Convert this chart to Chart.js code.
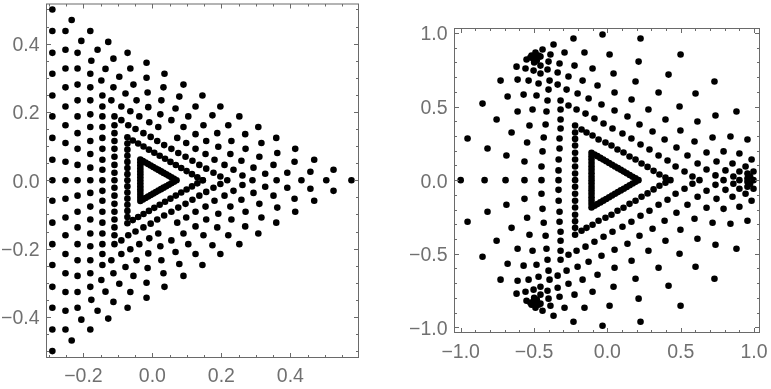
<!DOCTYPE html>
<html>
<head>
<meta charset="utf-8">
<script src="https://cdn.jsdelivr.net/npm/chart.js@4"></script>
<style>
html, body { margin: 0; padding: 0; background: #fff; }
canvas { position: absolute; top: 0; }
#leftWrap { position: absolute; left: 0; top: 0; width: 385px; height: 389px; }
#rightWrap { position: absolute; left: 395px; top: 0; width: 376px; height: 389px; }
</style>
</head>
<body>
<div id="leftWrap"><canvas id="leftChart"></canvas></div>
<div id="rightWrap"><canvas id="rightChart"></canvas></div>
<script>
// left panel, points
var leftUpper = [
[-.29,.5],[-.29,.437],[-.29,.373],[-.29,.312],[-.29,.248],[-.29,.187],[-.29,.124],[-.29,.06],
[-.252,.437],[-.252,.382],[-.252,.327],[-.252,.272],[-.252,.216],[-.252,.161],[-.252,.109],[-.252,.054],
[-.217,.373],[-.217,.327],[-.217,.28],[-.217,.234],[-.217,.187],[-.217,.138],[-.217,.092],[-.217,.045],
[-.18,.437],[-.18,.312],[-.18,.272],[-.18,.234],[-.18,.193],[-.18,.156],[-.18,.115],[-.18,.077],[-.18,.037],
[-.234,.469],[-.206,.408],[-.177,.35],[-.159,.382],[-.128,.405],[-.148,.292],[-.136,.326],
[-.145,.248],[-.145,.216],[-.145,.187],[-.145,.156],[-.145,.124],[-.145,.092],[-.145,.06],[-.145,.031],
[-.11,.187],[-.11,.161],[-.11,.138],[-.11,.115],[-.11,.092],[-.11,.069],[-.11,.045],[-.11,.022],
[-.113,.356],[-.113,.272],[-.119,.234],[-.09,.216],[-.096,.303],[-.078,.254],[-.072,.373],[-.064,.327],[-.055,.28],[-.046,.234],[-.064,.202],[-.038,.187],
[-.09,.176],[-.07,.161],[-.049,.15],[-.026,.138],[-.005,.127],[.014,.115],[.034,.103],[.055,.092],[.075,.08],[.096,.069],[.116,.057],[.136,.045],[.156,.034],[.177,.022],[.197,.011],
[-.017,.344],[-.017,.3],[-.014,.257],[-.012,.214],[-.009,.17],[.017,.156],[.023,.193],[.026,.234],[.032,.272],[.035,.312],[.067,.21],[.078,.245],[.09,.28],[.055,.176],[.09,.156],[.072,.124],[.098,.109],[.104,.187],
[.145,.248],[.125,.216],[.197,.216],[.174,.19],[.252,.187],[.148,.161],[.22,.161],[.307,.156],[.125,.135],[.188,.138],[.269,.135],[.156,.115],[.229,.115],[.316,.109],[.359,.124],[.125,.092],[.191,.098],[.27,.092],[.414,.092],[.154,.077],[.226,.077],[.362,.08],[.18,.06],[.258,.057],[.31,.069],[.469,.06],[.412,.054],[.209,.045],[.351,.045],[.235,.031],[.293,.037],[.525,.031],[.391,.022],[.458,.025],[.261,.014],[.327,.019]
];
var leftAxis = [[-.29,0],[-.252,0],[-.217,0],[-.18,0],[-.145,0],[-.11,0],[.146,0],[.217,0],[.29,0],[.36,0],[.432,0],[.504,0],[.577,0]];
var leftLower = [
[-.29,-.5],[-.29,-.437],[-.29,-.373],[-.29,-.312],[-.29,-.248],[-.29,-.187],[-.29,-.124],[-.29,-.06],
[-.252,-.437],[-.252,-.382],[-.252,-.327],[-.252,-.272],[-.252,-.216],[-.252,-.161],[-.252,-.109],[-.252,-.054],
[-.217,-.373],[-.217,-.327],[-.217,-.28],[-.217,-.234],[-.217,-.187],[-.217,-.138],[-.217,-.092],[-.217,-.045],
[-.18,-.437],[-.18,-.312],[-.18,-.272],[-.18,-.234],[-.18,-.193],[-.18,-.156],[-.18,-.115],[-.18,-.077],[-.18,-.037],
[-.234,-.469],[-.206,-.408],[-.177,-.35],[-.159,-.382],[-.128,-.405],[-.148,-.292],[-.136,-.326],
[-.145,-.248],[-.145,-.216],[-.145,-.187],[-.145,-.156],[-.145,-.124],[-.145,-.092],[-.145,-.06],[-.145,-.031],
[-.11,-.187],[-.11,-.161],[-.11,-.138],[-.11,-.115],[-.11,-.092],[-.11,-.069],[-.11,-.045],[-.11,-.022],
[-.113,-.356],[-.113,-.272],[-.119,-.234],[-.09,-.216],[-.096,-.303],[-.078,-.254],[-.072,-.373],[-.064,-.327],[-.055,-.28],[-.046,-.234],[-.064,-.202],[-.038,-.187],
[-.09,-.176],[-.07,-.161],[-.049,-.15],[-.026,-.138],[-.005,-.127],[.014,-.115],[.034,-.103],[.055,-.092],[.075,-.08],[.096,-.069],[.116,-.057],[.136,-.045],[.156,-.034],[.177,-.022],[.197,-.011],
[-.017,-.344],[-.017,-.3],[-.014,-.257],[-.012,-.214],[-.009,-.17],[.017,-.156],[.023,-.193],[.026,-.234],[.032,-.272],[.035,-.312],[.067,-.21],[.078,-.245],[.09,-.28],[.055,-.176],[.09,-.156],[.072,-.124],[.098,-.109],[.104,-.187],
[.145,-.248],[.125,-.216],[.197,-.216],[.174,-.19],[.252,-.187],[.148,-.161],[.22,-.161],[.307,-.156],[.125,-.135],[.188,-.138],[.269,-.135],[.156,-.115],[.229,-.115],[.316,-.109],[.359,-.124],[.125,-.092],[.191,-.098],[.27,-.092],[.414,-.092],[.154,-.077],[.226,-.077],[.362,-.08],[.18,-.06],[.258,-.057],[.31,-.069],[.469,-.06],[.412,-.054],[.209,-.045],[.351,-.045],[.235,-.031],[.293,-.037],[.525,-.031],[.391,-.022],[.458,-.025],[.261,-.014],[.327,-.019]
];
var leftMiddle = [
[-.0725,.1256],[-.0725,.1077],[-.0725,.0897],[-.0725,.0718],[-.0725,.0538],[-.0725,.0359],[-.0725,.0179],[-.0725,0],[-.0725,-.0179],[-.0725,-.0359],[-.0725,-.0538],[-.0725,-.0718],[-.0725,-.0897],[-.0725,-.1077],[-.0725,-.1256],
[-.0569,.1166],[-.0413,.1077],[-.0257,.0987],[-.0101,.0897],[.0055,.0807],[.0211,.0718],[.0367,.0628],[.0523,.0538],[.0679,.0449],[.0835,.0359],[.0991,.0269],[.1147,.0179],[.1303,.009],[.146,0],
[-.0569,-.1166],[-.0413,-.1077],[-.0257,-.0987],[-.0101,-.0897],[.0055,-.0807],[.0211,-.0718],[.0367,-.0628],[.0523,-.0538],[.0679,-.0449],[.0835,-.0359],[.0991,-.0269],[.1147,-.0179],[.1303,-.009]
];
var leftInner = [
[-.035,.0606],[-.035,.052],[-.035,.0433],[-.035,.0346],[-.035,.026],[-.035,.0173],[-.035,.0087],[-.035,0],[-.035,-.0087],[-.035,-.0173],[-.035,-.026],[-.035,-.0346],[-.035,-.0433],[-.035,-.052],[-.035,-.0606],
[-.0275,.0563],[-.02,.052],[-.0125,.0476],[-.005,.0433],[.0025,.039],[.01,.0346],[.0175,.0303],[.025,.026],[.0325,.0216],[.04,.0173],[.0475,.013],[.055,.0087],[.0625,.0043],[.07,0],
[-.0275,-.0563],[-.02,-.052],[-.0125,-.0476],[-.005,-.0433],[.0025,-.039],[.01,-.0346],[.0175,-.0303],[.025,-.026],[.0325,-.0216],[.04,-.0173],[.0475,-.013],[.055,-.0087],[.0625,-.0043]
];

// right panel
var rightUpper = [
[-.231,.962],[-.367,.921],[-.156,.867],[-.292,.867],[-.442,.887],[-.388,.853],[-.551,.819],
[-.517,.846],[-.49,.867],[-.469,.846],[-.503,.821],[-.481,.812],[-.456,.839],[-.49,.839],[-.525,.833],[-.499,.799],
[-.401,.805],[-.326,.792],[-.224,.778],[-.456,.778],[-.619,.771],[-.558,.758],[-.503,.744],[-.408,.751],[-.456,.724],[-.339,.731],[-.265,.704],[-.169,.676],[-.728,.676],[-.612,.683],[-.537,.676],[-.469,.656],[-.394,.676],[-.339,.649],[-.401,.615],[-.278,.615],[-.203,.588],[-.68,.568],[-.571,.581],[-.483,.575],[-.408,.541],[-.319,.541],[-.128,.554],[-.851,.52],[-.612,.466],[-.51,.48],[-.415,.466],[-.319,.48],[-.265,.507],[-.21,.48],[-.149,.452],[-.755,.412],[-.319,.412],[-.531,.371],[-.421,.378],[-.319,.351],[-.176,.344],[-.142,.324],[-.653,.324],[-.434,.29],[-.326,.283],[-.547,.256],[-.953,.283],[-.326,.215],[-.817,.215],[-.442,.195],[-.688,.167],[-.332,.14],[-.565,.127],[-.449,.093],[-.333,.066],
[-.22,.371],[-.22,.324],[-.22,.28],[-.22,.235],[-.22,.186],[-.22,.14],[-.22,.093],[-.22,.045],
[-.033,.989],[.226,.962],[.015,.853],[.499,.853],[.213,.805],[-.101,.758],[.042,.724],[.417,.717],[.192,.67],[.73,.67],[-.067,.643],[.049,.595],[.349,.595],[.601,.588],[.165,.548],[-.04,.514],[.492,.5],[.28,.48],[.049,.473],[.88,.466],[.137,.432],[.737,.439],[-.088,.419],[.396,.412],[.614,.398],[-.026,.385],[.219,.378],[.035,.351],[.498,.337],[.308,.33],[.103,.317],[-.101,.303],[.839,.296],[.717,.29],[.955,.276],
[-.06,.276],[-.013,.256],[.028,.235],[.069,.208],[.11,.188],[.151,.161],[.192,.14],[.233,.113],[.274,.09],[.315,.063],[.355,.038],[.396,.018],
[.164,.283],[.226,.242],[.287,.208],[.349,.167],[.41,.133],[.465,.093],[.526,.059],[.58,.025],[.39,.276],[.471,.222],[.546,.167],[.615,.113],[.676,.072],[.737,.032],[.594,.262],[.676,.188],[.744,.127],[.805,.066],[.792,.195],[.9,.181],[.853,.113],[.9,.059],[.983,.14],[.942,.093],[.859,.025],[.955,.045],[.996,.059],[.955,.011],[.973,.025]
];
var rightAxis = [[-1,0],[-.837,0],[-.694,0],[-.565,0],[-.449,0],[-.333,0],[-.22,0],[.43,0],[.628,0],[.792,0],[.9,0],[.996,0]];
var rightLower = [
[-.231,-.962],[-.367,-.921],[-.156,-.867],[-.292,-.867],[-.442,-.887],[-.388,-.853],[-.551,-.819],
[-.517,-.846],[-.49,-.867],[-.469,-.846],[-.503,-.821],[-.481,-.812],[-.456,-.839],[-.49,-.839],[-.525,-.833],[-.499,-.799],
[-.401,-.805],[-.326,-.792],[-.224,-.778],[-.456,-.778],[-.619,-.771],[-.558,-.758],[-.503,-.744],[-.408,-.751],[-.456,-.724],[-.339,-.731],[-.265,-.704],[-.169,-.676],[-.728,-.676],[-.612,-.683],[-.537,-.676],[-.469,-.656],[-.394,-.676],[-.339,-.649],[-.401,-.615],[-.278,-.615],[-.203,-.588],[-.68,-.568],[-.571,-.581],[-.483,-.575],[-.408,-.541],[-.319,-.541],[-.128,-.554],[-.851,-.52],[-.612,-.466],[-.51,-.48],[-.415,-.466],[-.319,-.48],[-.265,-.507],[-.21,-.48],[-.149,-.452],[-.755,-.412],[-.319,-.412],[-.531,-.371],[-.421,-.378],[-.319,-.351],[-.176,-.344],[-.142,-.324],[-.653,-.324],[-.434,-.29],[-.326,-.283],[-.547,-.256],[-.953,-.283],[-.326,-.215],[-.817,-.215],[-.442,-.195],[-.688,-.167],[-.332,-.14],[-.565,-.127],[-.449,-.093],[-.333,-.066],
[-.22,-.371],[-.22,-.324],[-.22,-.28],[-.22,-.235],[-.22,-.186],[-.22,-.14],[-.22,-.093],[-.22,-.045],
[-.033,-.989],[.226,-.962],[.015,-.853],[.499,-.853],[.213,-.805],[-.101,-.758],[.042,-.724],[.417,-.717],[.192,-.67],[.73,-.67],[-.067,-.643],[.049,-.595],[.349,-.595],[.601,-.588],[.165,-.548],[-.04,-.514],[.492,-.5],[.28,-.48],[.049,-.473],[.88,-.466],[.137,-.432],[.737,-.439],[-.088,-.419],[.396,-.412],[.614,-.398],[-.026,-.385],[.219,-.378],[.035,-.351],[.498,-.337],[.308,-.33],[.103,-.317],[-.101,-.303],[.839,-.296],[.717,-.29],[.955,-.276],
[-.06,-.276],[-.013,-.256],[.028,-.235],[.069,-.208],[.11,-.188],[.151,-.161],[.192,-.14],[.233,-.113],[.274,-.09],[.315,-.063],[.355,-.038],[.396,-.018],
[.164,-.283],[.226,-.242],[.287,-.208],[.349,-.167],[.41,-.133],[.465,-.093],[.526,-.059],[.58,-.025],[.39,-.276],[.471,-.222],[.546,-.167],[.615,-.113],[.676,-.072],[.737,-.032],[.594,-.262],[.676,-.188],[.744,-.127],[.805,-.066],[.792,-.195],[.9,-.181],[.853,-.113],[.9,-.059],[.983,-.14],[.942,-.093],[.859,-.025],[.955,-.045],[.996,-.059],[.955,-.011],[.973,-.025]
];
var rightInner = [
[-.108,.186],[-.108,.1628],[-.108,.1395],[-.108,.1163],[-.108,.093],[-.108,.0698],[-.108,.0465],[-.108,.0233],[-.108,0],[-.108,-.0233],[-.108,-.0465],[-.108,-.0698],[-.108,-.093],[-.108,-.1163],[-.108,-.1395],[-.108,-.1628],[-.108,-.186],
[-.088,.1744],[-.068,.1628],[-.048,.1511],[-.028,.1395],[-.008,.1279],[.012,.1163],[.032,.1046],[.052,.093],[.072,.0814],[.092,.0698],[.112,.0581],[.132,.0465],[.152,.0349],[.172,.0233],[.192,.0116],[.212,0],
[-.088,-.1744],[-.068,-.1628],[-.048,-.1511],[-.028,-.1395],[-.008,-.1279],[.012,-.1163],[.032,-.1046],[.052,-.093],[.072,-.0814],[.092,-.0698],[.112,-.0581],[.132,-.0465],[.152,-.0349],[.172,-.0233],[.192,-.0116]
];

var leftXMajor = [-0.2, 0, 0.2, 0.4];
var leftXMinor = [-0.3, -0.25, -0.15, -0.1, -0.05, 0.05, 0.1, 0.15, 0.25, 0.3, 0.35, 0.45, 0.5, 0.55];
var leftYMajor = [-0.4, -0.2, 0, 0.2, 0.4];
var leftYMinor = [-0.5, -0.45, -0.35, -0.3, -0.25, -0.15, -0.1, -0.05, 0.05, 0.1, 0.15, 0.25, 0.3, 0.35, 0.45, 0.5];
var rightMajor = [-1, -0.5, 0, 0.5, 1];
var rightMinor = [-0.9, -0.8, -0.7, -0.6, -0.4, -0.3, -0.2, -0.1, 0.1, 0.2, 0.3, 0.4, 0.6, 0.7, 0.8, 0.9];

var frameColor = "#6a6a6a";
var labelColor = "#707070";

// frame and inward ticks on all four sides
var framePlugin = {
    id: "frame",
    afterDraw: function (chart, args, opts) {
        var c = chart.ctx, a = chart.chartArea, sx = chart.scales.x, sy = chart.scales.y;
        c.save();
        c.strokeStyle = frameColor;
        c.lineWidth = 1;
        function tick(x0, y0, x1, y1) {
            c.beginPath();
            c.moveTo(x0, y0);
            c.lineTo(x1, y1);
            c.stroke();
        }
        function xTicks(vals, len) {
            vals.forEach(function (v) {
                var x = Math.round(sx.getPixelForValue(v)) + 0.5;
                tick(x, a.bottom, x, a.bottom - len);
                tick(x, a.top, x, a.top + len);
            });
        }
        function yTicks(vals, len) {
            vals.forEach(function (v) {
                var y = Math.round(sy.getPixelForValue(v)) + 0.5;
                tick(a.left, y, a.left + len, y);
                tick(a.right, y, a.right - len, y);
            });
        }
        xTicks(opts.xMajor, 4.5);
        xTicks(opts.xMinor, 2.5);
        yTicks(opts.yMajor, 4.5);
        yTicks(opts.yMinor, 2.5);
        c.strokeRect(a.left, a.top, a.right - a.left, a.bottom - a.top);
        c.restore();
    }
};

function fmt(v) {
    var s = Math.abs(v).toFixed(1);
    return v < -1e-9 ? "\u2212" + s : s;
}

function makeChart(id, points, cfg) {
    new Chart(id, {
        type: "scatter",
        data: {
            datasets: [{
                data: points.map(function (p) { return { x: p[0], y: p[1] }; }),
                backgroundColor: "#000",
                borderWidth: 0,
                pointRadius: 3.3
            }]
        },
        plugins: [framePlugin],
        options: {
            responsive: true,
            maintainAspectRatio: false,
            animation: false,
            layout: { padding: cfg.padding },
            plugins: {
                legend: { display: false },
                tooltip: { enabled: false },
                frame: { xMajor: cfg.xMajor, xMinor: cfg.xMinor, yMajor: cfg.yMajor, yMinor: cfg.yMinor }
            },
            scales: {
                x: {
                    type: "linear", min: cfg.xMin, max: cfg.xMax,
                    grid: { display: false, drawTicks: false }, border: { display: false },
                    afterBuildTicks: function (s) { s.ticks = cfg.xMajor.map(function (v) { return { value: v }; }); },
                    afterFit: function (s) {
                        s.height = cfg.xHeight;
                        s.paddingLeft = s.paddingRight = s.paddingTop = s.paddingBottom = 0;
                    },
                    ticks: {
                        callback: fmt, color: labelColor, padding: cfg.xPad, maxRotation: 0,
                        font: { family: "Liberation Sans", size: 19.5 }
                    }
                },
                y: {
                    type: "linear", min: cfg.yMin, max: cfg.yMax,
                    grid: { display: false, drawTicks: false }, border: { display: false },
                    afterBuildTicks: function (s) { s.ticks = cfg.yMajor.map(function (v) { return { value: v }; }); },
                    afterFit: function (s) {
                        s.width = cfg.yWidth;
                        s.paddingLeft = s.paddingRight = s.paddingTop = s.paddingBottom = 0;
                    },
                    ticks: {
                        callback: fmt, color: labelColor, padding: 7, labelOffset: 2,
                        font: { family: "Liberation Sans", size: 19.5 }
                    }
                }
            }
        }
    });
}

makeChart("leftChart", leftUpper.concat(leftAxis, leftLower, leftMiddle, leftInner), {
    xMin: -0.307, xMax: 0.5974, yMin: -0.5188, yMax: 0.516,
    xMajor: leftXMajor, xMinor: leftXMinor, yMajor: leftYMajor, yMinor: leftYMinor,
    padding: { left: 0, right: 26.5, top: 0.5, bottom: 0 },
    xHeight: 31.5, yWidth: 46.5, xPad: 7.5
});

makeChart("rightChart", rightUpper.concat(rightAxis, rightLower, rightInner), {
    xMin: -1.042, xMax: 1.037, yMin: -1.035, yMax: 1.03,
    xMajor: rightMajor, xMinor: rightMinor, yMajor: rightMajor, yMinor: rightMinor,
    padding: { left: 0, right: 11.5, top: 28.5, bottom: 0 },
    xHeight: 56.5, yWidth: 59.5, xPad: 8.5
});
</script>
</body>
</html>
